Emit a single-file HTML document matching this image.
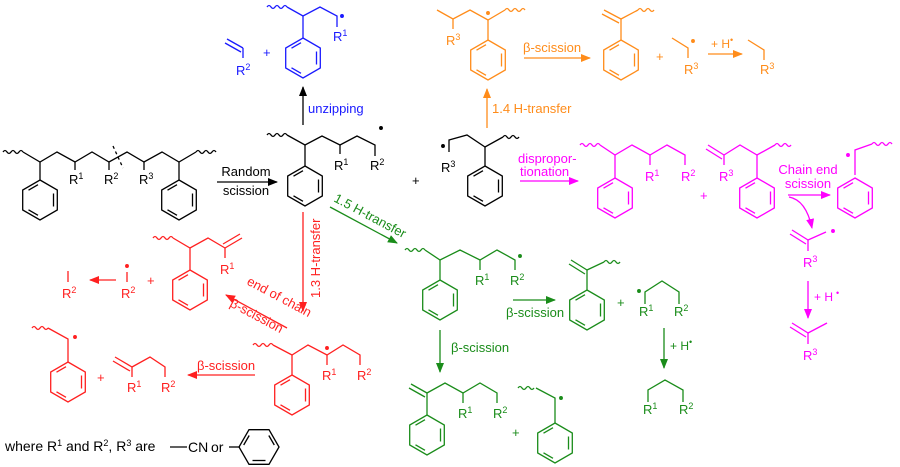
<!DOCTYPE html>
<html><head><meta charset="utf-8"><style>
html,body{margin:0;padding:0;background:#fff}
svg{display:block;font-family:"Liberation Sans",sans-serif}
text{stroke:none}
</style></head><body>
<svg width="900" height="467" viewBox="0 0 900 467" xmlns="http://www.w3.org/2000/svg">
<defs>
<symbol id="b" overflow="visible">
<polygon points="0,-20 17.3,-10 17.3,10 0,20 -17.3,10 -17.3,-10" fill="none"/>
<line x1="13.5" y1="-6.5" x2="13.5" y2="6.5"/>
<line x1="-2" y1="15.3" x2="-11.5" y2="9.8"/>
<line x1="-11.5" y1="-9.8" x2="-2" y2="-15.3"/>
</symbol>
<marker id="ak" markerWidth="10" markerHeight="8" refX="9" refY="4" orient="auto" markerUnits="userSpaceOnUse"><path d="M0,0 L10,4 L0,8 z" fill="#000"/></marker>
<marker id="ao" markerWidth="10" markerHeight="8" refX="9" refY="4" orient="auto" markerUnits="userSpaceOnUse"><path d="M0,0 L10,4 L0,8 z" fill="#ff8c1a"/></marker>
<marker id="am" markerWidth="10" markerHeight="8" refX="9" refY="4" orient="auto" markerUnits="userSpaceOnUse"><path d="M0,0 L10,4 L0,8 z" fill="#f0f"/></marker>
<marker id="ag" markerWidth="10" markerHeight="8" refX="9" refY="4" orient="auto" markerUnits="userSpaceOnUse"><path d="M0,0 L10,4 L0,8 z" fill="#1a8c1a"/></marker>
<marker id="ar" markerWidth="10" markerHeight="8" refX="9" refY="4" orient="auto" markerUnits="userSpaceOnUse"><path d="M0,0 L10,4 L0,8 z" fill="#ff2020"/></marker>
</defs>

<!-- BLACK -->
<g stroke="#000" stroke-width="1.3" fill="none" font-size="13">
<path d="M3,152 q2,-3 4,0 t4,0 t4,0 t4,0 t4,0"/>
<polyline points="23,152 40,162 57,152 75,162 92,152 109,162 127,152 144,162 162,152 179,162 196,152"/>
<path d="M196,152 q2,-3 4,0 t4,0 t4,0 t4,0 t4,0"/>
<line x1="40" y1="162" x2="40" y2="180"/><use href="#b" x="40" y="200"/>
<line x1="179" y1="162" x2="179" y2="180"/><use href="#b" x="179" y="200"/>
<line x1="75" y1="162" x2="75" y2="170"/><line x1="109" y1="162" x2="109" y2="170"/><line x1="144" y1="162" x2="144" y2="170"/>
<line x1="113" y1="146" x2="123" y2="168" stroke-dasharray="3,3"/>
<text x="69" y="184" fill="#000">R<tspan dy="-5" font-size="9">1</tspan></text>
<text x="104" y="184" fill="#000">R<tspan dy="-5" font-size="9">2</tspan></text>
<text x="139" y="184" fill="#000">R<tspan dy="-5" font-size="9">3</tspan></text>
<line x1="217" y1="182" x2="277" y2="182" marker-end="url(#ak)"/>
<text x="246" y="176" text-anchor="middle" fill="#000">Random</text>
<text x="246" y="195" text-anchor="middle" fill="#000">scission</text>

<path d="M267,135 q2,-3 4,0 t4,0 t4,0 t4,0 t4,0"/>
<polyline points="287,135 305,145 322,136 340,145 357,136 375,145 375,156"/>
<line x1="340" y1="145" x2="340" y2="154"/>
<line x1="305" y1="145" x2="305" y2="166"/><use href="#b" x="305" y="186"/>
<text x="334" y="170" fill="#000">R<tspan dy="-5" font-size="9">1</tspan></text>
<text x="370" y="170" fill="#000">R<tspan dy="-5" font-size="9">2</tspan></text>
<circle cx="381" cy="128" r="1.3" fill="#000"/>
<line x1="303" y1="125" x2="303" y2="87" marker-end="url(#ak)"/>
<text x="412" y="185" fill="#000">+</text>

<circle cx="443" cy="146" r="1.3" fill="#000"/>
<polyline points="449,152 449,140 467,135 485,147 503,137"/>
<path d="M503,137 q2,-3 4,0 t4,0 t4,0 t4,0"/>
<line x1="485" y1="147" x2="485" y2="166"/><use href="#b" x="485" y="186"/>
<text x="441" y="172" fill="#000">R<tspan dy="-5" font-size="9">3</tspan></text>

<text x="5" y="451" fill="#000" font-size="14">where R<tspan dy="-5" font-size="9">1</tspan><tspan dy="5"> and R</tspan><tspan dy="-5" font-size="9">2</tspan><tspan dy="5">, R</tspan><tspan dy="-5" font-size="9">3</tspan><tspan dy="5"> are</tspan></text>
<line x1="170" y1="447" x2="187" y2="447"/>
<text x="188" y="452" fill="#000" font-size="14">CN</text>
<text x="211" y="452" fill="#000" font-size="14">or</text>
<line x1="229" y1="447" x2="240" y2="447"/>
<use href="#b" transform="translate(259,447) rotate(90)"/>
</g>

<!-- BLUE -->
<g stroke="#1a1aff" stroke-width="1.3" fill="none" font-size="13">
<line x1="227" y1="39" x2="243" y2="48"/><line x1="225" y1="43" x2="241" y2="52"/>
<line x1="243" y1="48" x2="243" y2="58"/>
<text x="236" y="75" fill="#1a1aff">R<tspan dy="-5" font-size="9">2</tspan></text>
<text x="263" y="57" fill="#1a1aff">+</text>
<path d="M267,7 q2,-3 4,0 t4,0 t4,0 t4,0 t4,0"/>
<polyline points="287,7 303,16 320,7 337,16 337,27"/>
<circle cx="342" cy="16" r="1.3" fill="#1a1aff"/>
<text x="333" y="41" fill="#1a1aff">R<tspan dy="-5" font-size="9">1</tspan></text>
<line x1="303" y1="16" x2="303" y2="38"/><use href="#b" x="303" y="58"/>
<text x="308" y="113" fill="#1a1aff">unzipping</text>
</g>

<!-- ORANGE -->
<g stroke="#ff8c1a" stroke-width="1.3" fill="none" font-size="13">
<polyline points="437,10 453,19 470,10 488,20 505,10"/>
<path d="M505,10 q2,-3 4,0 t4,0 t4,0 t4,0 t4,0"/>
<line x1="453" y1="19" x2="453" y2="29"/>
<text x="446" y="45" fill="#ff8c1a">R<tspan dy="-5" font-size="9">3</tspan></text>
<circle cx="488" cy="13" r="1.3" fill="#ff8c1a"/>
<line x1="488" y1="20" x2="488" y2="40"/><use href="#b" x="488" y="60"/>
<line x1="487" y1="128" x2="487" y2="89" marker-end="url(#ao)"/>
<text x="492" y="113" fill="#ff8c1a">1.4 H-transfer</text>
<line x1="524" y1="58" x2="590" y2="58" marker-end="url(#ao)"/>
<text x="523" y="52" fill="#ff8c1a">β-scission</text>
<line x1="604" y1="10" x2="621" y2="19"/><line x1="602" y1="14" x2="619" y2="23"/>
<line x1="621" y1="19" x2="638" y2="10"/>
<path d="M638,10 q2,-3 4,0 t4,0 t4,0 t4,0"/>
<line x1="621" y1="19" x2="621" y2="40"/><use href="#b" x="621" y="60"/>
<text x="656" y="61" fill="#ff8c1a">+</text>
<polyline points="672,38 688,48 688,58"/>
<circle cx="693" cy="41" r="1.3" fill="#ff8c1a"/>
<text x="684" y="74" fill="#ff8c1a">R<tspan dy="-5" font-size="9">3</tspan></text>
<line x1="708" y1="54" x2="742" y2="54" marker-end="url(#ao)"/>
<text x="711" y="48" fill="#ff8c1a" font-size="12">+ H<tspan dy="-5" font-size="9">•</tspan></text>
<polyline points="748,40 764,50 764,60"/>
<text x="760" y="74" fill="#ff8c1a">R<tspan dy="-5" font-size="9">3</tspan></text>
</g>

<!-- MAGENTA -->
<g stroke="#f0f" stroke-width="1.3" fill="none" font-size="13">
<text x="518" y="163" fill="#f0f">dispropor-</text>
<text x="520" y="176" fill="#f0f">tionation</text>
<line x1="520" y1="181" x2="578" y2="181" marker-end="url(#am)"/>
<path d="M580,145 q2,-3 4,0 t4,0 t4,0 t4,0 t4,0"/>
<polyline points="600,145 615,155 632,145 650,155 667,145 685,155 685,165"/>
<line x1="650" y1="155" x2="650" y2="165"/>
<line x1="615" y1="155" x2="615" y2="178"/><use href="#b" x="615" y="198"/>
<text x="645" y="181" fill="#f0f">R<tspan dy="-5" font-size="9">1</tspan></text>
<text x="681" y="181" fill="#f0f">R<tspan dy="-5" font-size="9">2</tspan></text>
<text x="700" y="200" fill="#f0f">+</text>
<line x1="708" y1="145" x2="724" y2="155"/><line x1="706" y1="149" x2="722" y2="159"/>
<polyline points="724,155 740,145 757,155 775,145"/>
<path d="M775,145 q2,-3 4,0 t4,0 t4,0 t4,0"/>
<line x1="724" y1="155" x2="724" y2="165"/>
<text x="719" y="181" fill="#f0f">R<tspan dy="-5" font-size="9">3</tspan></text>
<line x1="757" y1="155" x2="757" y2="178"/><use href="#b" x="757" y="198"/>
<text x="808" y="174" text-anchor="middle" fill="#f0f">Chain end</text>
<text x="808" y="188" text-anchor="middle" fill="#f0f">scission</text>
<line x1="788" y1="195" x2="830" y2="195" marker-end="url(#am)"/>
<path d="M789,197 Q806,200 812,228" marker-end="url(#am)"/>
<circle cx="848" cy="155" r="1.3" fill="#f0f"/>
<polyline points="855,175 855,150 872,144"/>
<path d="M872,144 q2,-3 4,0 t4,0 t4,0 t4,0 t4,0"/>
<use href="#b" x="855" y="198"/>
<line x1="792" y1="230" x2="808" y2="240"/><line x1="790" y1="234" x2="806" y2="244"/>
<line x1="808" y1="240" x2="826" y2="232"/>
<circle cx="833" cy="231" r="1.3" fill="#f0f"/>
<line x1="808" y1="240" x2="808" y2="251"/>
<text x="803" y="267" fill="#f0f">R<tspan dy="-5" font-size="9">3</tspan></text>
<line x1="808" y1="281" x2="808" y2="318" marker-end="url(#am)"/>
<text x="814" y="301" fill="#f0f" font-size="12">+ H<tspan dx="3" dy="-5" font-size="9">•</tspan></text>
<line x1="792" y1="323" x2="808" y2="333"/><line x1="790" y1="327" x2="806" y2="337"/>
<line x1="808" y1="333" x2="827" y2="323"/>
<line x1="808" y1="333" x2="808" y2="344"/>
<text x="803" y="360" fill="#f0f">R<tspan dy="-5" font-size="9">3</tspan></text>
</g>

<!-- GREEN -->
<g stroke="#1a8c1a" stroke-width="1.3" fill="none" font-size="13">
<line x1="330" y1="207" x2="397" y2="243" marker-end="url(#ag)"/>
<text transform="translate(333,201) rotate(28)" fill="#1a8c1a">1.5 H-transfer</text>
<path d="M405,250 q2,-3 4,0 t4,0 t4,0 t4,0 t4,0"/>
<polyline points="425,250 440,260 460,250 480,260 497,250 515,260 515,270"/>
<line x1="480" y1="260" x2="480" y2="270"/>
<circle cx="520" cy="256" r="1.3" fill="#1a8c1a"/>
<line x1="440" y1="260" x2="440" y2="280"/><use href="#b" x="440" y="300"/>
<text x="475" y="285" fill="#1a8c1a">R<tspan dy="-5" font-size="9">1</tspan></text>
<text x="510" y="285" fill="#1a8c1a">R<tspan dy="-5" font-size="9">2</tspan></text>
<line x1="513" y1="300" x2="555" y2="300" marker-end="url(#ag)"/>
<text x="506" y="317" fill="#1a8c1a">β-scission</text>
<line x1="571" y1="260" x2="587" y2="270"/><line x1="569" y1="264" x2="585" y2="274"/>
<line x1="587" y1="270" x2="604" y2="262"/>
<path d="M604,262 q2,-3 4,0 t4,0 t4,0 t4,0"/>
<line x1="587" y1="270" x2="587" y2="290"/><use href="#b" x="587" y="310"/>
<text x="617" y="307" fill="#1a8c1a">+</text>
<circle cx="639" cy="291" r="1.3" fill="#1a8c1a"/>
<polyline points="645,304 645,292 662,281 679,292 679,304"/>
<text x="639" y="316" fill="#1a8c1a">R<tspan dy="-5" font-size="9">1</tspan></text>
<text x="674" y="316" fill="#1a8c1a">R<tspan dy="-5" font-size="9">2</tspan></text>
<line x1="664" y1="328" x2="664" y2="368" marker-end="url(#ag)"/>
<text x="670" y="350" fill="#1a8c1a" font-size="12">+ H<tspan dy="-5" font-size="9">•</tspan></text>
<polyline points="648,402 648,390 665,380 683,390 683,402"/>
<text x="643" y="414" fill="#1a8c1a">R<tspan dy="-5" font-size="9">1</tspan></text>
<text x="679" y="414" fill="#1a8c1a">R<tspan dy="-5" font-size="9">2</tspan></text>
<line x1="440" y1="330" x2="440" y2="372" marker-end="url(#ag)"/>
<text x="451" y="352" fill="#1a8c1a">β-scission</text>
<line x1="411" y1="384" x2="427" y2="393"/><line x1="409" y1="388" x2="425" y2="397"/>
<polyline points="427,393 445,383 463,393 480,383 497,393 497,403"/>
<line x1="463" y1="393" x2="463" y2="403"/>
<line x1="427" y1="393" x2="427" y2="415"/><use href="#b" x="427" y="435"/>
<text x="458" y="418" fill="#1a8c1a">R<tspan dy="-5" font-size="9">1</tspan></text>
<text x="493" y="418" fill="#1a8c1a">R<tspan dy="-5" font-size="9">2</tspan></text>
<text x="512" y="437" fill="#1a8c1a">+</text>
<path d="M518,388 q2,-3 4,0 t4,0 t4,0 t4,0"/>
<polyline points="536,388 555,398 555,423"/>
<circle cx="561" cy="398" r="1.3" fill="#1a8c1a"/>
<use href="#b" x="555" y="443"/>
</g>

<!-- RED -->
<g stroke="#ff2020" stroke-width="1.3" fill="none" font-size="13">
<line x1="303" y1="212" x2="303" y2="311" marker-end="url(#ar)"/>
<text transform="translate(320,298) rotate(-90)" fill="#ff2020">1.3 H-transfer</text>
<path d="M253,345 q2,-3 4,0 t4,0 t4,0 t4,0 t4,0"/>
<polyline points="273,345 292,355 308,345 327,355 343,345 360,355 360,365"/>
<line x1="327" y1="355" x2="327" y2="365"/>
<circle cx="327" cy="348" r="1.3" fill="#ff2020"/>
<line x1="292" y1="355" x2="292" y2="375"/><use href="#b" x="292" y="395"/>
<text x="322" y="380" fill="#ff2020">R<tspan dy="-5" font-size="9">1</tspan></text>
<text x="357" y="380" fill="#ff2020">R<tspan dy="-5" font-size="9">2</tspan></text>
<line x1="287" y1="328" x2="226" y2="295" marker-end="url(#ar)"/>
<text transform="translate(246,284) rotate(28)" fill="#ff2020">end of chain</text>
<text transform="translate(229,306) rotate(28)" fill="#ff2020">β-scission</text>
<path d="M153,238 q2,-3 4,0 t4,0 t4,0 t4,0 t4,0"/>
<polyline points="173,238 190,248 208,238 225,248"/>
<line x1="225" y1="248" x2="242" y2="238"/><line x1="223" y1="244" x2="240" y2="234"/>
<line x1="225" y1="248" x2="225" y2="258"/>
<text x="220" y="274" fill="#ff2020">R<tspan dy="-5" font-size="9">1</tspan></text>
<line x1="190" y1="248" x2="190" y2="270"/><use href="#b" x="190" y="290"/>
<text x="147" y="285" fill="#ff2020">+</text>
<circle cx="127" cy="266" r="1.3" fill="#ff2020"/>
<line x1="127" y1="272" x2="127" y2="282"/>
<text x="121" y="298" fill="#ff2020">R<tspan dy="-5" font-size="9">2</tspan></text>
<line x1="116" y1="280" x2="90" y2="280" marker-end="url(#ar)"/>
<line x1="68" y1="271" x2="68" y2="282"/>
<text x="62" y="298" fill="#ff2020">R<tspan dy="-5" font-size="9">2</tspan></text>
<line x1="255" y1="375" x2="188" y2="375" marker-end="url(#ar)"/>
<text x="197" y="370" fill="#ff2020">β-scission</text>
<line x1="115" y1="357" x2="132" y2="367"/><line x1="113" y1="361" x2="130" y2="371"/>
<polyline points="132,367 150,357 165,367 165,377"/>
<line x1="132" y1="367" x2="132" y2="377"/>
<text x="127" y="392" fill="#ff2020">R<tspan dy="-5" font-size="9">1</tspan></text>
<text x="161" y="392" fill="#ff2020">R<tspan dy="-5" font-size="9">2</tspan></text>
<text x="97" y="382" fill="#ff2020">+</text>
<path d="M32,328 q2,-3 4,0 t4,0 t4,0 t4,0"/>
<polyline points="48,328 68,339 68,362"/>
<circle cx="75" cy="337" r="1.3" fill="#ff2020"/>
<use href="#b" x="68" y="382"/>
</g>
</svg>
</body></html>
